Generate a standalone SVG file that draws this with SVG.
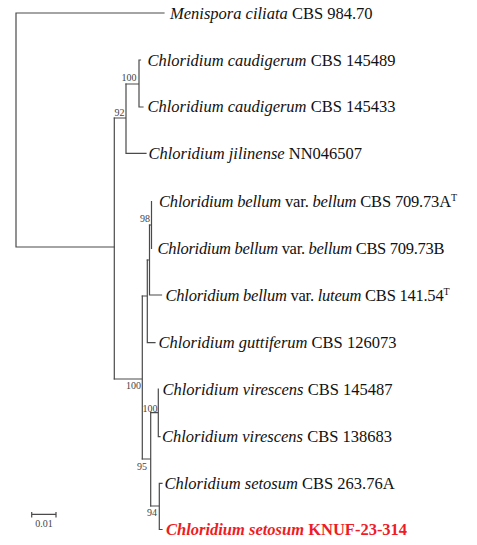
<svg xmlns="http://www.w3.org/2000/svg" width="477" height="545" viewBox="0 0 477 545">
<style>
.br{stroke:#4a4a4a;stroke-width:1.2;fill:none;stroke-linecap:square}
.lf{font-family:"Liberation Serif","Times New Roman",serif;font-size:16.5px;fill:#111}
.it{font-style:italic}
.bs{font-family:"Liberation Serif","Times New Roman",serif;font-size:10px;fill:#444}
.red{fill:#ee1c24;font-weight:bold}
.sup{font-size:10px}
</style>
<rect width="477" height="545" fill="#fff"/>
<g id="connectors" class="br">
<path d="M16,13 V247 M16,13 H164 M16,247 H114.3"/>
<path d="M114.3,118 V379"/>
<path d="M114.3,118 H126 M126,84 V153.3 M126,153.3 H146"/>
<path d="M126,84 H139 M139,60 V107 M139,60 H140.5 M139,107 H143"/>
<path d="M114.3,379 H142.3 M142.3,296 V459"/>
<path d="M142.3,296 H147.3 M147.3,260 V342.7 M147.3,342.7 H155"/>
<path d="M147.3,260 H149.5 M149.5,225 V295 M149.5,295 H161.5"/>
<path d="M149.5,225 H151.5 M151.5,201.5 V248.3"/>
<path d="M142.3,459 H150.7 M150.7,412.7 V506"/>
<path d="M150.7,412.7 H158.3 M158.3,389 V436.7 M158.3,436.7 H160"/>
<path d="M150.7,506 H159.3 M159.3,483.3 V529.5 M159.3,483.3 H162 M159.3,529.5 H162"/>
</g>
<g id="bootstrap">
<text class="bs" x="129" y="80.5" text-anchor="middle">100</text>
<text class="bs" x="119.5" y="115.5" text-anchor="middle">92</text>
<text class="bs" x="145" y="221.5" text-anchor="middle">98</text>
<text class="bs" x="133.5" y="388.5" text-anchor="middle">100</text>
<text class="bs" x="150" y="411.5" text-anchor="middle">100</text>
<text class="bs" x="142" y="469.5" text-anchor="middle">95</text>
<text class="bs" x="152" y="515.5" text-anchor="middle">94</text>
</g>
<g id="leaf-menispora"><text class="lf" x="170" y="18.5"><tspan class="it">Menispora ciliata</tspan> CBS 984.70</text></g>
<g id="leaf-caud1"><text class="lf" x="147.5" y="65.5"><tspan class="it">Chloridium caudigerum</tspan> CBS 145489</text></g>
<g id="leaf-caud2"><text class="lf" x="147.5" y="112"><tspan class="it">Chloridium caudigerum</tspan> CBS 145433</text></g>
<g id="leaf-jilinense"><text class="lf" x="148.5" y="158.5"><tspan class="it">Chloridium jilinense</tspan> NN046507</text></g>
<g id="leaf-bellumA"><text class="lf" x="159" y="207" textLength="298"><tspan class="it">Chloridium bellum</tspan> var. <tspan class="it">bellum</tspan> CBS 709.73A<tspan class="sup" dy="-6">T</tspan></text></g>
<g id="leaf-bellumB"><text class="lf" x="157.5" y="253.5" textLength="287"><tspan class="it">Chloridium bellum</tspan> var. <tspan class="it">bellum</tspan> CBS 709.73B</text></g>
<g id="leaf-luteum"><text class="lf" x="165.5" y="300.5" textLength="284"><tspan class="it">Chloridium bellum</tspan> var. <tspan class="it">luteum</tspan> CBS 141.54<tspan class="sup" dy="-6">T</tspan></text></g>
<g id="leaf-guttiferum"><text class="lf" x="158.5" y="348"><tspan class="it">Chloridium guttiferum</tspan> CBS 126073</text></g>
<g id="leaf-vir1"><text class="lf" x="162.5" y="394.5"><tspan class="it">Chloridium virescens</tspan> CBS 145487</text></g>
<g id="leaf-vir2"><text class="lf" x="162" y="442"><tspan class="it">Chloridium virescens</tspan> CBS 138683</text></g>
<g id="leaf-setosum"><text class="lf" x="164.5" y="488.5"><tspan class="it">Chloridium setosum</tspan> CBS 263.76A</text></g>
<g id="leaf-knuf"><text class="lf red" x="166" y="535"><tspan class="it">Chloridium setosum</tspan> KNUF-23-314</text></g>
<g id="scalebar">
<path class="br" d="M31.7,514.3 H56 M31.7,512.5 V517 M56,512.5 V517"/>
<text class="bs" x="44" y="526.5" text-anchor="middle" font-size="9">0.01</text>
</g>
</svg>
